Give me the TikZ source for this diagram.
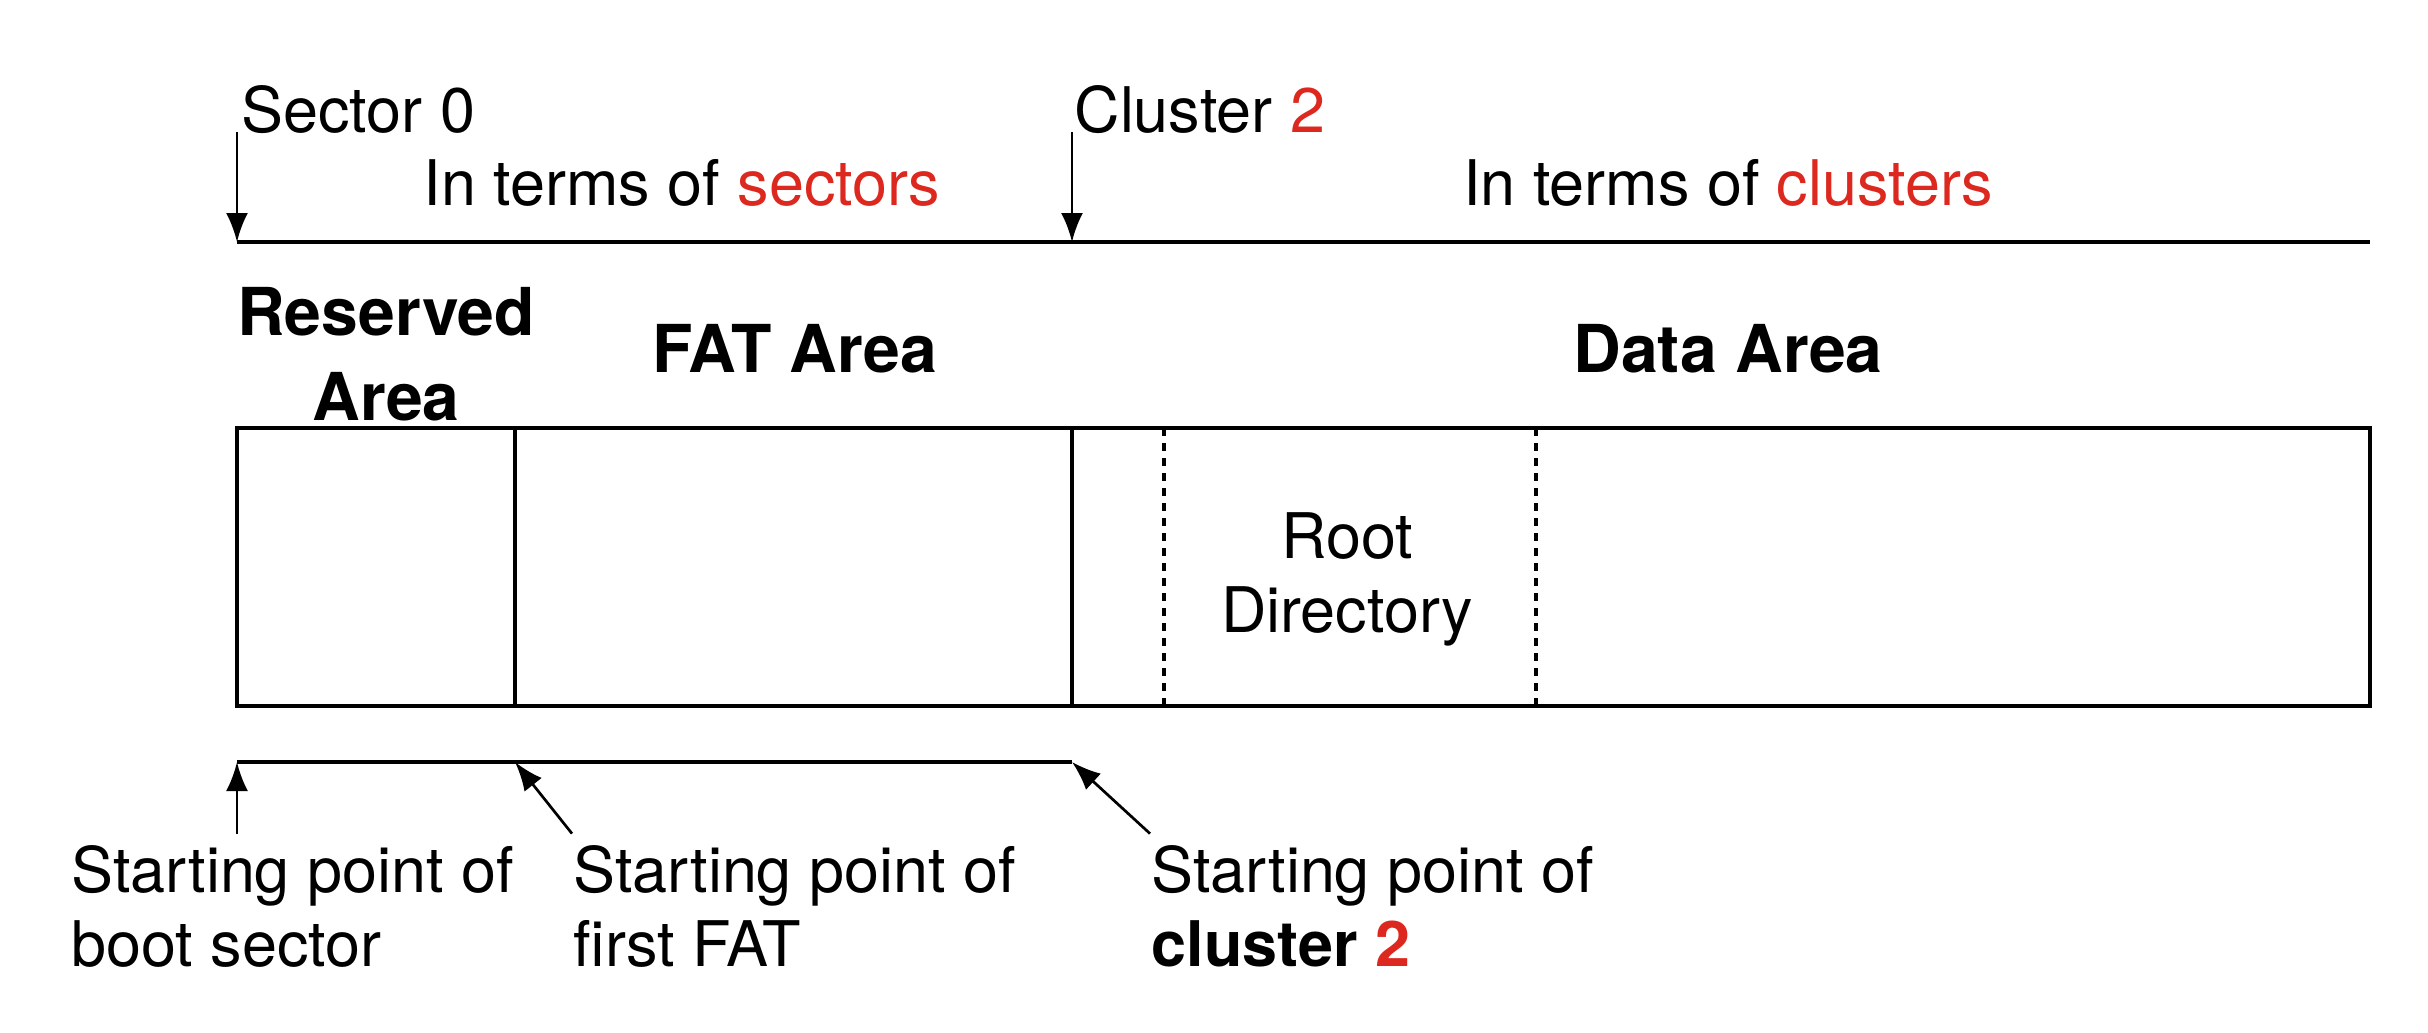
\documentclass[tikz,border=0pt]{standalone}
\usepackage{fontspec}
\setmainfont{TeX Gyre Heros}
\usetikzlibrary{arrows.meta}
\usetikzlibrary{positioning}
\definecolor{mred}{RGB}{220, 40, 30}
\tikzset{lbl/.style = {inner sep = 0, font = \fontsize{17.9}{21}\selectfont}}
\tikzset{areaname/.style = {inner sep = 0, align = center, font = \fontsize{18.8}{24}\selectfont\bfseries}}
\tikzset{ptr/.style = {-{Latex[length = 2.9mm, width = 2.2mm]}, line width = 0.27mm}}
\tikzset{split/.style = {dash pattern = on 0.8mm off 0.7mm}}

\begin{document}
\begin{tikzpicture}[x = 0.1mm, y = -0.1mm, line width = 0.32mm]
    \useasboundingbox (0, 0) rectangle (2428, 1032);

    % top scale
    \coordinate (s0) at (237, 242);
    \coordinate (c2) at (1072, 242);
    \coordinate (topend) at (2370, 242);
    \draw (s0) -- (topend);
    \node [lbl, anchor = base west] (sec0) at (240, 132) {Sector 0};
    \node [lbl, anchor = base west] (clu2) at (1073, 132) {Cluster \textcolor{mred}{2}};
    \draw [ptr] (s0 |- sec0.base) -- (s0);
    \draw [ptr] (c2 |- clu2.base) -- (c2);
    \node [lbl, anchor = base] (insec) at (682, 205) {In terms of \textcolor{mred}{sectors}};
    \node [lbl, anchor = base] (inclu) at (1728, 205) {In terms of \textcolor{mred}{clusters}};

    % area names
    \node [areaname, anchor = base] (resv) at (386, 420) {Reserved\\Area};
    \node [areaname, anchor = base] (fat) at (795, 372) {FAT Area};
    \node [areaname, anchor = base] (data) at (1728, 372) {Data Area};

    % volume layout
    \draw (237, 428) rectangle (2370, 706);
    \draw (515, 428) -- (515, 706);
    \draw (1072, 428) -- (1072, 706);
    \draw [split] (1164, 428) -- (1164, 706);
    \draw [split] (1536, 428) -- (1536, 706);
    \node [lbl, align = center, anchor = base] (root) at (1347, 632) {Root\\Directory};

    % bottom scale
    \coordinate (b0) at (237, 762);
    \coordinate (b1) at (515, 762);
    \coordinate (b2) at (1072, 762);
    \draw (b0) -- (b2);
    \node [lbl, align = left, anchor = base west] (boot) at (70, 966) {Starting point of\\boot sector};
    \node [lbl, align = left, anchor = base west] (fat1) at (572, 966) {Starting point of\\first FAT};
    \node [lbl, align = left, anchor = base west] (clus) at (1150, 966) {Starting point of\\\textbf{cluster \textcolor{mred}{2}}};
    \path (boot.north -| b0) ++(0, -10) coordinate (t0);
    \draw [ptr] (t0) -- (b0);
    \draw [ptr] ([yshift = 1mm] fat1.north west) -- (b1);
    \draw [ptr] ([yshift = 1mm] clus.north west) -- (b2);
\end{tikzpicture}
\end{document}
